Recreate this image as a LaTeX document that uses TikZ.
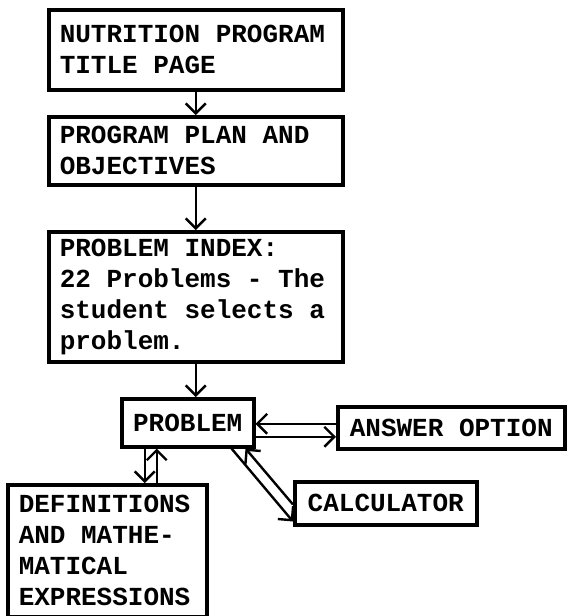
\documentclass[tikz,border=0pt]{standalone}
\usepackage{fontspec}
\setmonofont{Liberation Mono}
\usetikzlibrary{positioning,arrows.meta}

\begin{document}
\begin{tikzpicture}[x=1pt, y=-1pt, >={Straight Barb[length=10pt,width=20pt]},
    box/.style={draw, line width=3.5pt, anchor=north west, inner xsep=11pt, inner ysep=0pt,
      font=\ttfamily\bfseries\fontsize{26}{31}\selectfont},
    textbox/.style={box, align=flush left, text width=#1,
      execute at begin node={\spaceskip=0.6em\relax\xspaceskip=0.6em\relax}},
    flow/.style={->, line width=2.4pt}]
    \useasboundingbox (0,0) rectangle (566,616);
    % main chain
    \node[textbox=272pt, minimum height=80pt] (title) at (47,8) {NUTRITION PROGRAM\\TITLE PAGE};
    \node[textbox=272pt, minimum height=68pt] (plan) at (47,115) {PROGRAM PLAN AND\\OBJECTIVES};
    \node[textbox=272pt, minimum height=130pt] (index) at (47,230) {PROBLEM INDEX:\\22 Problems - The\\student selects a\\problem.};
    % problem and its helpers
    \node[box, minimum width=132pt, minimum height=48pt] (prob) at (120,397) {PROBLEM};
    \node[box, minimum width=227pt, minimum height=42pt] (answer) at (336,405) {ANSWER OPTION};
    \node[box, minimum width=182pt, minimum height=43pt] (calc) at (293,480) {CALCULATOR};
    \node[textbox=177pt, minimum height=132pt] (defs) at (6,483) {DEFINITIONS\\AND MATHE-\\MATICAL\\EXPRESSIONS};
    % arrows down
    \draw[flow] (title) -- (plan);
    \draw[flow] (plan) -- (index);
    \draw[flow] (index.south) -- (index.south |- prob.north);
    % problem <-> answer option
    \draw[flow] ([yshift=4pt]answer.west) -- ([yshift=4pt]answer.west -| prob.east);
    \draw[flow] ([yshift=-9pt]answer.west -| prob.east) -- ([yshift=-9pt]answer.west);
    % problem <-> definitions
    \draw[flow] ([xshift=-43pt]prob.south) -- ([xshift=-43pt]prob.south |- defs.north);
    \draw[flow] ([xshift=-31pt]prob.south |- defs.north) -- ([xshift=-31pt]prob.south);
    % problem <-> calculator
    \draw[flow] ([xshift=-24pt]prob.south east) -- ([yshift=5pt]calc.south west);
    \draw[flow] ([yshift=22pt]calc.south west) -- ([xshift=-10pt]prob.south east);
\end{tikzpicture}
\end{document}
